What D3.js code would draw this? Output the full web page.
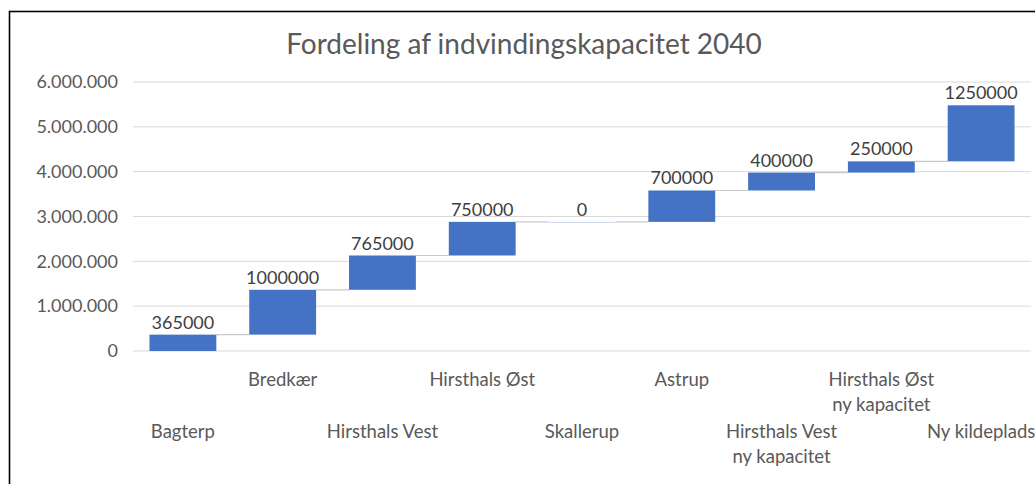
<!DOCTYPE html>
<html>
<head>
<meta charset="utf-8">
<script src="https://cdn.jsdelivr.net/npm/d3@7"></script>
<style>
  body { margin: 0; background: #fff; }
  svg text { font-family: Lato, "Open Sans", sans-serif; fill: #595959; }
</style>
</head>
<body>
<svg width="1035" height="484"></svg>
<script>
const categories = ["Bagterp", "Bredkær", "Hirsthals Vest", "Hirsthals Øst", "Skallerup",
  "Astrup", "Hirsthals Vest\nny kapacitet", "Hirsthals Øst\nny kapacitet", "Ny kildeplads"];
const amounts = [365000, 1000000, 765000, 750000, 0, 700000, 400000, 250000, 1250000];
const yTicks = [0, 1000000, 2000000, 3000000, 4000000, 5000000, 6000000];
const title = "Fordeling af indvindingskapacitet 2040";

// running totals for the waterfall
let total = 0;
const data = categories.map((c, i) => {
  const start = total;
  total += amounts[i];
  return { cat: c, amount: amounts[i], start: start, end: total };
});

const svg = d3.select("svg");
const margin = { top: 82, right: 4, bottom: 133, left: 133 };
const width = 1035 - margin.left - margin.right,
      height = 484 - margin.top - margin.bottom;

const dk = d3.formatLocale({ decimal: ",", thousands: ".", grouping: [3], currency: ["", " kr"] });

// outer frame
svg.append("rect")
  .attr("x", 9.5).attr("y", 11.5)
  .attr("width", 1100).attr("height", 600)
  .attr("fill", "none").attr("stroke", "#000").attr("stroke-width", 1.6);

svg.append("text")
  .attr("x", 524).attr("y", 54)
  .attr("text-anchor", "middle")
  .style("font-size", "28px")
  .text(title);

const x = d3.scaleBand().domain(categories).range([0, width]).paddingInner(0.33).paddingOuter(0.165);
const y = d3.scaleLinear().domain([0, 6000000]).range([height, 0]);

const g = svg.append("g").attr("transform", "translate(" + margin.left + "," + margin.top + ")");

// gridlines
g.append("g")
  .selectAll("line")
  .data(yTicks)
  .enter().append("line")
    .attr("x1", 0).attr("x2", width)
    .attr("y1", d => y(d)).attr("y2", d => y(d))
    .attr("stroke", "#d9d9d9").attr("stroke-width", 1);

// y axis labels
const yAxis = g.append("g")
  .call(d3.axisLeft(y).tickValues(yTicks).tickFormat(dk.format(",d")).tickSize(0).tickPadding(15));
yAxis.select(".domain").remove();
yAxis.selectAll("text").style("font-size", "18px").attr("fill", "#595959");

// connectors
g.append("g")
  .selectAll("line")
  .data(data.slice(0, -1))
  .enter().append("line")
    .attr("x1", d => x(d.cat) + x.bandwidth())
    .attr("x2", (d, i) => x(data[i + 1].cat))
    .attr("y1", d => y(d.end)).attr("y2", d => y(d.end))
    .attr("stroke", "#c8c8c8").attr("stroke-width", 1.2);

// bars
g.selectAll(".bar")
  .data(data)
  .enter().append("rect")
    .attr("class", "bar")
    .attr("x", d => x(d.cat))
    .attr("y", d => y(d.end))
    .attr("width", x.bandwidth())
    .attr("height", d => Math.max(y(d.start) - y(d.end), 1))
    .attr("fill", d => d.amount === 0 ? "#c9d6ee" : "#4472c4");

// value labels
g.selectAll(".val")
  .data(data)
  .enter().append("text")
    .attr("class", "val")
    .attr("x", d => x(d.cat) + x.bandwidth() / 2)
    .attr("y", d => y(d.end) - 6)
    .attr("text-anchor", "middle")
    .style("font-size", "18px")
    .style("fill", "#404040")
    .text(d => d.amount);

// staggered category labels
const cats = g.append("g")
  .selectAll("text")
  .data(data)
  .enter().append("text")
    .attr("text-anchor", "middle")
    .style("font-size", "18.5px")
    .attr("transform", (d, i) => "translate(" + (x(d.cat) + x.bandwidth() / 2) + "," + (height + (i % 2 ? 35 : 87)) + ")");
cats.selectAll("tspan")
  .data(d => d.cat.split("\n"))
  .enter().append("tspan")
    .attr("x", 0)
    .attr("dy", (d, i) => i ? 25 : 0)
    .text(d => d);
</script>
</body>
</html>
